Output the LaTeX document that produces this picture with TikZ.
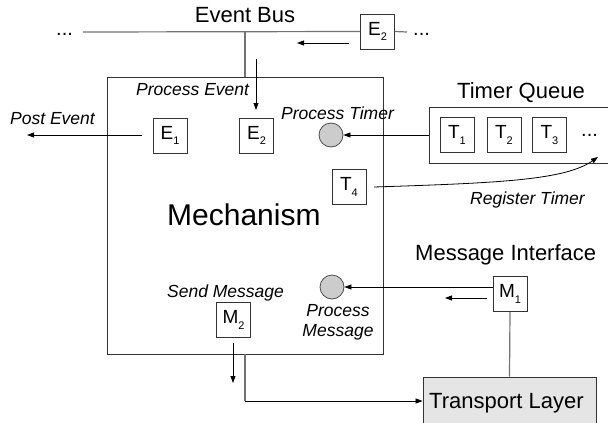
\documentclass[tikz,border=0pt]{standalone}
\usepackage{fontspec}
\setmainfont{Liberation Sans}
\usetikzlibrary{arrows.meta}
\newcommand\fsz[1]{\fontsize{#1}{#1}\selectfont}
\newcommand\sublbl[2]{#1\raisebox{-0.55ex}{\fsz{11}#2}}
\tikzset{
  box/.style={draw=black!80, line width=0.8pt, minimum width=34pt, minimum height=35pt, inner sep=0pt, font=\fsz{19}},
  lab/.style={font=\fsz{17.5}\itshape, inner sep=0pt},
  big/.style={font=\fsz{22}, inner sep=0pt},
  dots/.style={font=\fsz{20}, inner sep=0pt},
  arr/.style={-{Triangle[length=7pt,width=5pt]}, line width=0.8pt, black},
  gline/.style={draw=black!55, line width=1.2pt},
  frame/.style={draw=black!80, line width=0.9pt, inner sep=0pt},
  dot/.style={circle, draw=black!70, fill=black!20, minimum size=24pt, inner sep=0pt, line width=0.8pt}
}
\begin{document}
\begin{tikzpicture}[x=1pt,y=-1pt]
\useasboundingbox (0,0) rectangle (608,423);
% main boxes
\node[frame, minimum width=276pt, minimum height=277pt] (mech) at (245,215.5) {};
\node[frame, minimum width=191pt, minimum height=56pt] (tq) at (524.5,135) {};
\node[frame, fill=black!10, minimum width=173pt, minimum height=48pt] (tl) at (509.5,401) {};
% titles
\node[big, anchor=base] (bust) at (245,22) {Event Bus};
\node[big, anchor=base west] (tqt) at (457,98) {Timer Queue};
\node[big, anchor=base west] (mit) at (415,260) {Message Interface};
\node[big, anchor=base west] (tlt) at (429,408) {Transport Layer};
\node[font=\fsz{30}, inner sep=0pt, anchor=base west] (mt) at (167,225) {Mechanism};
% italic labels
\node[lab, anchor=base west] (pe) at (136,95) {Process Event};
\node[lab, anchor=base west] (po) at (10,124) {Post Event};
\node[lab, anchor=base west] (pt) at (281,119) {Process Timer};
\node[lab, anchor=base west] (rt) at (470,204) {Register Timer};
\node[lab, anchor=base west] (sm) at (167,297) {Send Message};
\node[lab, anchor=base] (pm1) at (338,316) {Process};
\node[lab, anchor=base] (pm2) at (338,336) {Message};
% small boxes
\node[box] (eb) at (377.5,31.5) {\sublbl{E}{2}};
\node[box] (e1) at (170,135.5) {\sublbl{E}{1}};
\node[box] (e2) at (256.5,135.5) {\sublbl{E}{2}};
\node[box] (t1) at (457,135) {\sublbl{T}{1}};
\node[box] (t2) at (504,135) {\sublbl{T}{2}};
\node[box] (t3) at (549.5,135) {\sublbl{T}{3}};
\node[box] (t4) at (349,187) {\sublbl{T}{4}};
\node[box] (m1) at (510,294) {\sublbl{M}{1}};
\node[box] (m2) at (233.5,320) {\sublbl{M}{2}};
% circles
\node[dot] (ct) at (331,135) {};
\node[dot] (cm) at (332,287) {};
% dots
\node[dots, anchor=base west] (dl) at (56,35) {...};
\node[dots, anchor=base west] (dr) at (413,35) {...};
\node[dots, anchor=base west] (dq) at (581,136) {...};
% coordinates
\coordinate (busl) at (83,32);
\coordinate (busr) at (407,32);
\coordinate (ba1) at (349,43);
\coordinate (ba2) at (297,43);
\coordinate (da1) at (256,59);
\coordinate (da2) at (256,110);
\coordinate (pe1) at (142,135);
\coordinate (pe2) at (27,135);
\coordinate (rt1) at (374,187);
\coordinate (rt2) at (598,157);
\coordinate (sa1) at (487,298);
\coordinate (sa2) at (445,298);
\coordinate (ma1) at (233,343);
\coordinate (ma2) at (233,383);
\coordinate (bend) at (245,401);
% bus
\draw[gline] (busl) -- (eb.west);
\draw[gline] (eb.east) -- (busr);
\draw[gline] (mech.north) -- (mech.north |- busl);
\draw[arr] (ba1) -- (ba2);
\draw[arr] (da1) -- (da2);
\draw[arr] (pe1) -- (pe2);
% timers
\draw[arr] (tq.west) -- (ct.east);
\draw[arr] (rt1) .. controls (500,183) and (565,180) .. (rt2);
% messages
\draw[arr] ([yshift=7pt]m1.west) -- (cm.east);
\draw[arr] (sa1) -- (sa2);
\draw[gline] (m1.south) -- (tl.north);
\draw[arr] (ma1) -- (ma2);
\draw[gline] (mech.south) -- (bend);
\draw[arr] (bend) -- (tl.west);
\end{tikzpicture}
\end{document}
